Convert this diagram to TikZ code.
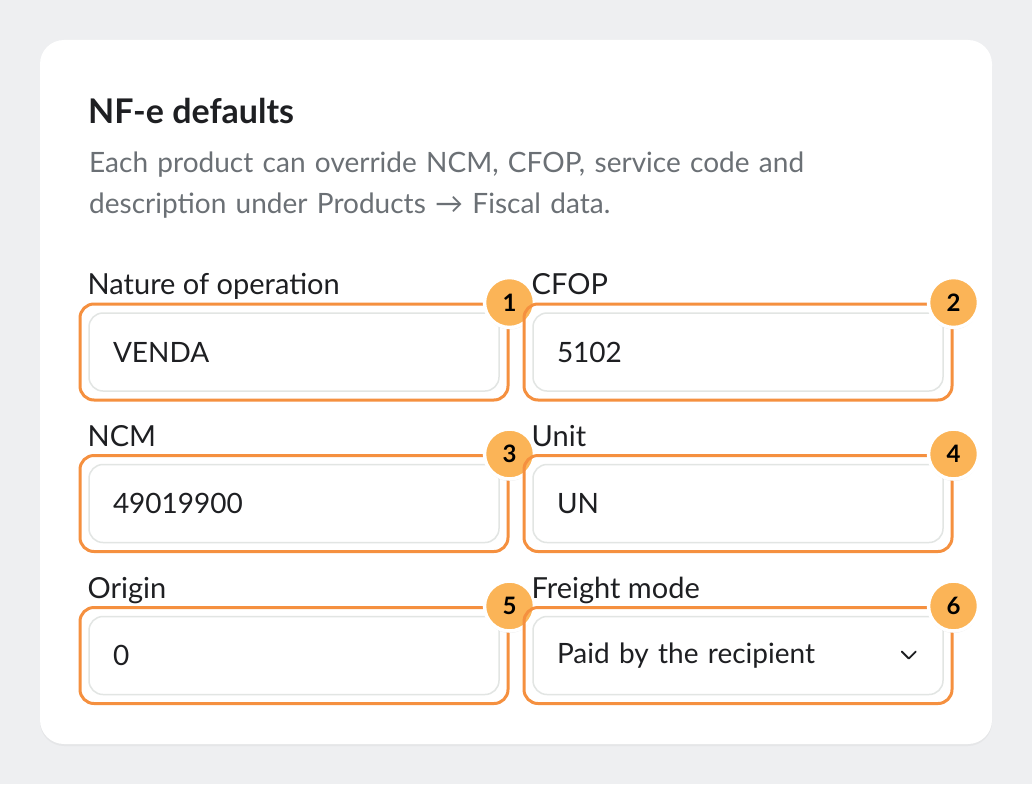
\documentclass[tikz,border=0pt]{standalone}
\usepackage{fontspec}
\setmainfont{Lato}
\usetikzlibrary{positioning,shadows}
\definecolor{pagebg}{HTML}{EEEFF1}
\definecolor{ringc}{HTML}{F5903F}
\definecolor{badgec}{HTML}{FBB457}
\definecolor{fieldline}{HTML}{E2E5E3}
\definecolor{greytext}{HTML}{6B7075}
\definecolor{inktext}{HTML}{1E1F22}
\tikzset{
  field/.style={draw=fieldline,line width=1.5pt,rounded corners=14pt,minimum width=410pt,minimum height=78pt,inner xsep=24pt,text width=362pt,align=left,font=\fontsize{28}{32}\selectfont,text=inktext},
  ring/.style={draw=ringc,line width=3pt,rounded corners=14pt,minimum width=428pt,minimum height=96pt},
  badge/.style={circle,fill=badgec,draw=white,line width=3.5pt,minimum size=50pt,font=\bfseries\fontsize{24}{26}\selectfont,text=black,drop shadow={opacity=0.15,shadow xshift=0pt,shadow yshift=-2pt}},
  flabel/.style={anchor=base west,font=\fontsize{29}{32}\selectfont,text=inktext}
}
\begin{document}
\begin{tikzpicture}[x=1pt,y=-1pt]
  \fill[pagebg] (0,0) rectangle (1032,784);
  \useasboundingbox (0,0) rectangle (1032,784);
  \fill[white,rounded corners=24pt,drop shadow={opacity=0.08,shadow xshift=0pt,shadow yshift=-2pt}] (40,40) rectangle (992,744);
  \node[anchor=base west,inner sep=0pt,font=\bfseries\fontsize{34}{38}\selectfont,text=inktext] (title) at (88,123) {NF-e defaults};
  \node[anchor=base west,font=\fontsize{28}{41}\selectfont,text=greytext,text width=800pt,align=left,inner sep=0pt] (desc) at (89,172) {Each product can override NCM, CFOP, service code and\\description under Products → Fiscal data.};
  % fields
  \foreach \n/\x/\y/\lab/\val in {1/294/352/Nature of operation/VENDA,2/738/352/CFOP/5102,3/294/503.5/NCM/49019900,4/738/503.5/Unit/UN,5/294/655.5/Origin/0,6/738/655.5/Freight mode/Paid by the recipient}{
    \node[ring] (r\n) at (\x,\y) {};
    \node[field] (f\n) at (\x,\y) {\val};
    \node[flabel,inner sep=0pt] (l\n) at ([xshift=9pt,yshift=8pt]r\n.north west) {\lab};
    \node[badge] (b\n) at (r\n.north east) {\n};
  }
  \draw[inktext,line width=1.8pt,line cap=round,line join=round] ([xshift=-42pt,yshift=4pt]f6.east) -- ([xshift=-35pt,yshift=-3pt]f6.east) -- ([xshift=-28pt,yshift=4pt]f6.east);
\end{tikzpicture}
\end{document}
